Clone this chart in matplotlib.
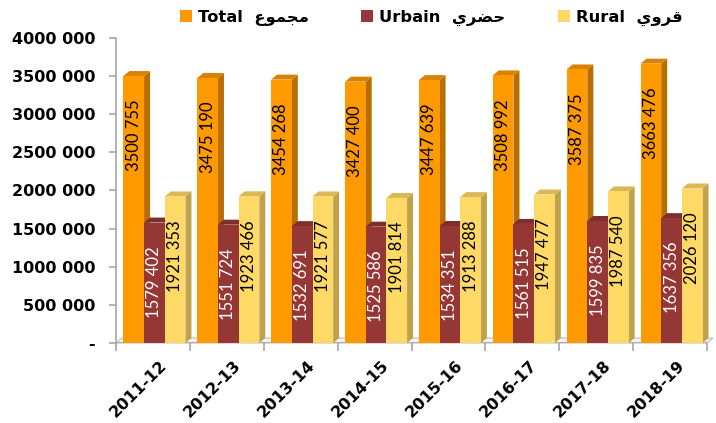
import matplotlib
matplotlib.use("Agg")
import matplotlib.pyplot as plt
import matplotlib.transforms as mtrans
from matplotlib.patches import Polygon, Patch
from matplotlib.ticker import FuncFormatter, MultipleLocator
import numpy as np

categories = ["2011-12", "2012-13", "2013-14", "2014-15", "2015-16", "2016-17", "2017-18", "2018-19"]
total = [3500755, 3475190, 3454268, 3427400, 3447639, 3508992, 3587375, 3663476]
urbain = [1579402, 1551724, 1532691, 1525586, 1534351, 1561515, 1599835, 1637356]
rural = [1921353, 1923466, 1921577, 1901814, 1913288, 1947477, 1987540, 2026120]
# Arabic words written in presentation forms (visual order) so they render joined
series_labels = ["Total  \uFEC9\uFEEE\uFEE4\uFEA0\uFEE3",
                 "Urbain  \uFEF1\uFEAE\uFEC0\uFEA3",
                 "Rural  \uFEF1\uFEED\uFEAE\uFED7"]

series = [total, urbain, rural]
front = ["#FF9900", "#953735", "#FFD966"]
side = ["#B86E00", "#6A2624", "#BFA34C"]
topc = ["#D98200", "#7E2E2C", "#D9B957"]
label_colors = ["black", "white", "black"]


def fmt_num(v):
    s = f"{int(v):,}"
    parts = s.split(",")
    if len(parts) == 1:
        return s
    return "".join(parts[:-1]) + " " + parts[-1]


W, H = 716, 423
fig = plt.figure(figsize=(W / 100, H / 100), dpi=100)
left, right, bottom, top = 116 / W, 707 / W, (H - 343) / H, (H - 38) / H
ax = fig.add_axes([left, bottom, right - left, top - bottom])

n = len(categories)
x = np.arange(n)
width = 0.28
offsets = [-0.26, 0.02, 0.30]
ymax = 4000000
ax.set_xlim(-0.5, n - 0.5)
ax.set_ylim(0, ymax)

ax_w_px = (right - left) * W
ax_h_px = (top - bottom) * H
ddx = 6 * n / ax_w_px
ddy = 5 * ymax / ax_h_px

# floor
floor = Polygon([(-0.5, 0), (n - 0.5, 0), (n - 0.5 + ddx, ddy), (-0.5 + ddx, ddy)],
                closed=True, facecolor="#F2F2F2", edgecolor="#BFBFBF", lw=0.8, zorder=1,
                clip_on=False)
ax.add_patch(floor)

for j in range(n):
    for i, s in enumerate(series):
        v = s[j]
        x0 = x[j] + offsets[i] - width / 2
        x1 = x0 + width
        z = 2 + j * 3 + i
        ax.add_patch(Polygon([(x1, 0), (x1 + ddx, ddy), (x1 + ddx, v + ddy), (x1, v)],
                             closed=True, facecolor=side[i], edgecolor="none", zorder=z,
                             clip_on=False))
        ax.add_patch(Polygon([(x0, v), (x1, v), (x1 + ddx, v + ddy), (x0 + ddx, v + ddy)],
                             closed=True, facecolor=topc[i], edgecolor="none", zorder=z,
                             clip_on=False))
        ax.bar(x0 + width / 2, v, width=width, color=front[i], zorder=z + 0.5, clip_on=False)
        ax.annotate(fmt_num(v), (x0 + width / 2, v), xytext=(0, -17), textcoords="offset points",
                    rotation=90, ha="center", va="top", fontsize=12, color=label_colors[i],
                    family="Lato", zorder=40)

for sp in ["top", "right", "bottom"]:
    ax.spines[sp].set_visible(False)
ax.spines["left"].set_color("#A6A6A6")
ax.spines["left"].set_linewidth(1.2)

ax.yaxis.set_major_locator(MultipleLocator(500000))
ax.yaxis.set_major_formatter(FuncFormatter(lambda v, pos: "-" if v == 0 else fmt_num(v)))
ax.tick_params(axis="y", colors="#A6A6A6", length=5, width=1.2, labelcolor="black",
               labelsize=11.5, pad=10)
for t in ax.get_yticklabels():
    t.set_fontweight("bold")

ax.set_xticks(x)
ax.set_xticklabels(categories, rotation=45, ha="right", va="center", rotation_mode="anchor",
                   fontsize=11.5, fontweight="bold")
ax.tick_params(axis="x", length=0, pad=14)
ax.set_xticks(np.arange(-0.5, n, 1.0), minor=True)
ax.tick_params(axis="x", which="minor", length=6, color="#A6A6A6", width=1.2)
ax.axhline(0, color="#A6A6A6", lw=1.2, zorder=1.5)

for t in ax.get_xticklabels():
    t.set_transform(t.get_transform() + mtrans.ScaledTranslation(12 / 100, 0, fig.dpi_scale_trans))

handles = [Patch(facecolor=c, edgecolor="none") for c in front]
fig.legend(handles, series_labels, loc="upper center", bbox_to_anchor=(0.602, 1.012), ncol=3,
           frameon=False, handlelength=0.75, handleheight=0.75, handletextpad=0.35,
           columnspacing=3.2, prop={"weight": "bold", "size": 11.8, "family": "DejaVu Sans"})

fig.savefig("out.png", dpi=100)
